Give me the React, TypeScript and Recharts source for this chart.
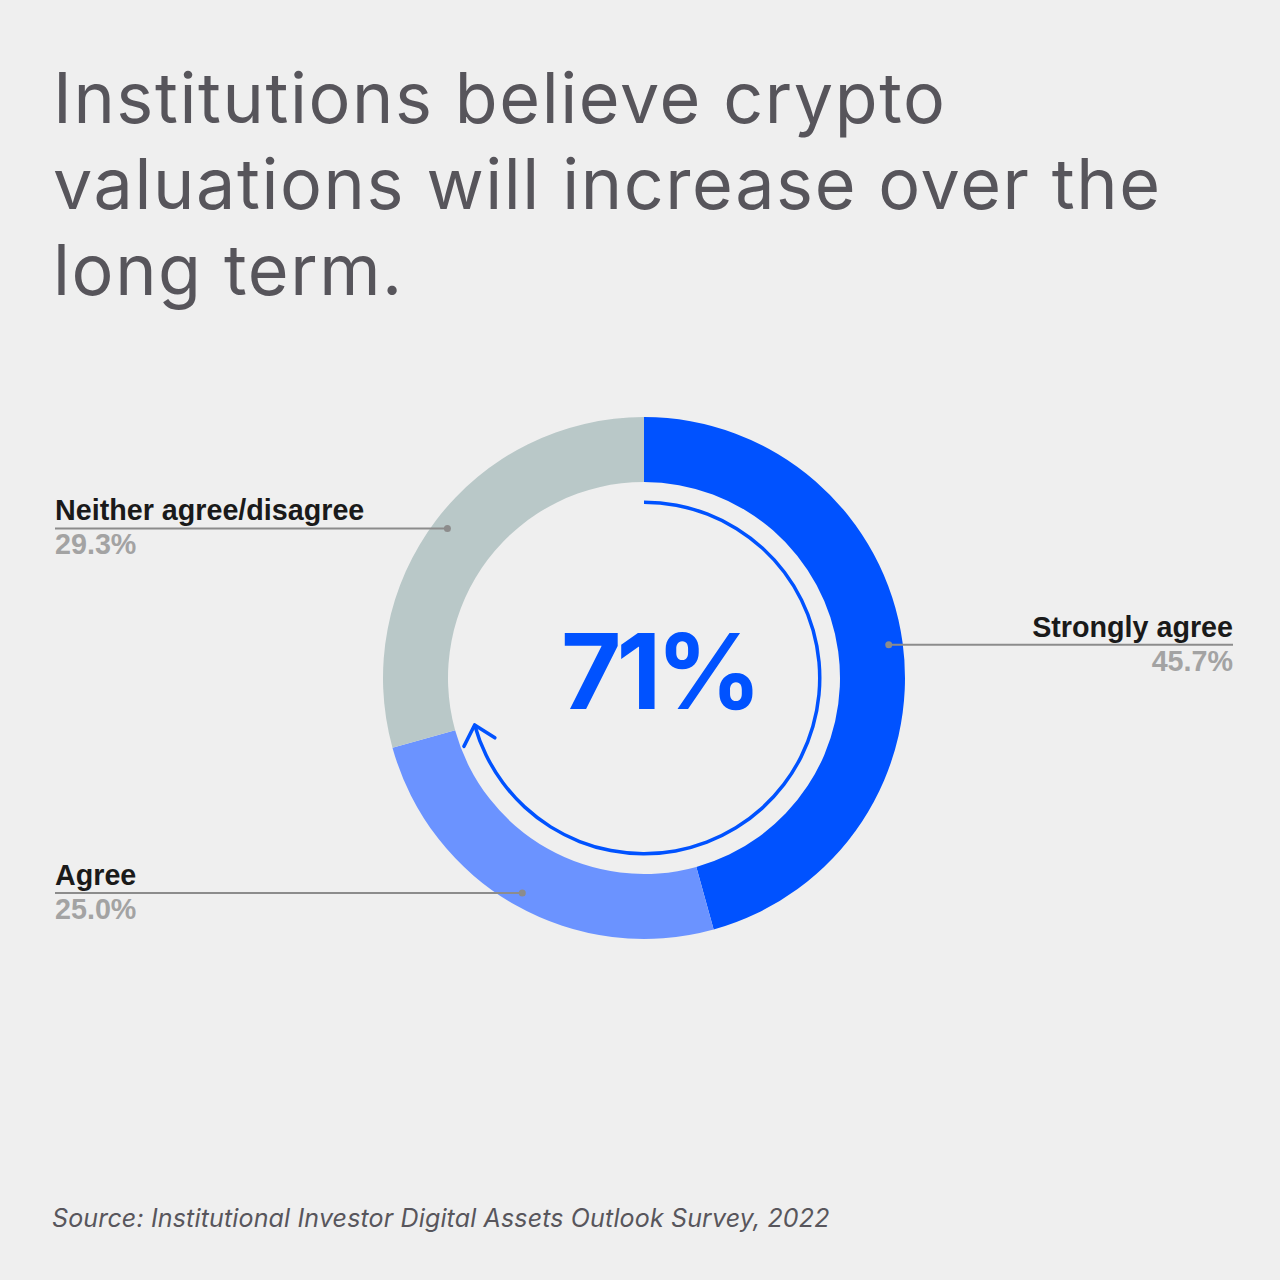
import React from 'react';
import { PieChart, Pie, Cell, Label } from 'recharts';

const categories = ['Strongly agree', 'Agree', 'Neither agree/disagree'];
const shares = [45.7, 25.0, 29.3];
const colors = ['#0052ff', '#6b93ff', '#b9c8c8'];
const headline = '71%';
const arcShare = [70.7, 29.3];

const sliceData = categories.map((name, i) => ({ name, value: shares[i] }));
const arcData = arcShare.map((value, i) => ({ name: i === 0 ? 'agree' : 'rest', value }));

const W = 1280;
const CX = 644;
const CY = 678;
const RAD = Math.PI / 180;

function SliceLabel(props: any) {
  const { cx, cy, midAngle, name, value } = props;
  const r = 247;
  const x = cx + r * Math.cos(-midAngle * RAD);
  const y = cy + r * Math.sin(-midAngle * RAD);
  const right = x > cx;
  const edge = right ? 1233 : 55;
  const anchor = right ? 'end' : 'start';
  return (
    <g>
      <line x1={x} y1={y} x2={edge} y2={y} stroke="#8c8c8c" strokeWidth={2} />
      <circle cx={x} cy={y} r={3.5} fill="#8c8c8c" />
      <text x={edge} y={y - 8} textAnchor={anchor} fontFamily="'Liberation Sans', Arial, sans-serif" fontWeight={700} fontSize={28.7} fill="#1a1a1a">
        {name}
      </text>
      <text x={edge} y={y + 26} textAnchor={anchor} fontFamily="'Liberation Sans', Arial, sans-serif" fontWeight={700} fontSize={28.7} fill="#a3a3a3">
        {value.toFixed(1)}%
      </text>
    </g>
  );
}

function ArrowHead(props: any) {
  const { cx, cy, endAngle, index, innerRadius, outerRadius } = props;
  if (index !== 0) return null;
  const r = (innerRadius + outerRadius) / 2;
  const a = -endAngle * RAD;
  const tx = cx + r * Math.cos(a);
  const ty = cy + r * Math.sin(a);
  // direction of travel (clockwise on screen)
  const dx = -Math.sin(a);
  const dy = Math.cos(a);
  const len = 24;
  const spread = 42 * RAD;
  const bx = -dx;
  const by = -dy;
  const w1x = tx + len * (bx * Math.cos(spread) - by * Math.sin(spread));
  const w1y = ty + len * (bx * Math.sin(spread) + by * Math.cos(spread));
  const w2x = tx + len * (bx * Math.cos(-spread) - by * Math.sin(-spread));
  const w2y = ty + len * (bx * Math.sin(-spread) + by * Math.cos(-spread));
  return (
    <path
      d={`M${w1x},${w1y} L${tx},${ty} L${w2x},${w2y}`}
      fill="none"
      stroke="#0052ff"
      strokeWidth={3.5}
      strokeLinecap="round"
      strokeLinejoin="round"
    />
  );
}

function CenterText(props: any) {
  const { viewBox } = props;
  const cx = viewBox?.cx ?? CX;
  const cy = viewBox?.cy ?? CY;
  return (
    <text x={cx + 15} y={cy + 31} textAnchor="middle" fontFamily="Inter, sans-serif" fontWeight={700} fontSize={104} letterSpacing={-5} fill="#0052ff">
      {headline}
    </text>
  );
}

export default function App() {
  return (
    <div style={{ position: 'absolute', left: 0, top: 0, width: W, height: W, background: '#efefef', overflow: 'hidden' }}>
      <div
        style={{
          position: 'absolute',
          left: 53,
          top: 55,
          width: 1200,
          fontFamily: 'Inter, sans-serif',
          fontWeight: 400,
          fontSize: 70,
          lineHeight: '86px',
          color: '#57555b',
          letterSpacing: 1.6,
        }}
      >
        Institutions believe crypto valuations will increase over the long term.
      </div>
      <div style={{ position: 'absolute', left: 0, top: 0 }}>
        <PieChart width={W} height={W} margin={{ top: 0, right: 0, bottom: 0, left: 0 }}>
          <Pie
            data={sliceData}
            dataKey="value"
            nameKey="name"
            cx={CX}
            cy={CY}
            innerRadius={196}
            outerRadius={261}
            startAngle={90}
            endAngle={-270}
            stroke="none"
            label={SliceLabel}
            labelLine={false}
            isAnimationActive={false}
          >
            {sliceData.map((d, i) => (
              <Cell key={d.name} fill={colors[i]} />
            ))}
          </Pie>
          <Pie
            data={arcData}
            dataKey="value"
            cx={CX}
            cy={CY}
            innerRadius={174}
            outerRadius={177.5}
            startAngle={90}
            endAngle={-270}
            stroke="none"
            label={ArrowHead}
            labelLine={false}
            isAnimationActive={false}
          >
            <Cell fill="#0052ff" />
            <Cell fill="none" />
            <Label content={CenterText} position="center" />
          </Pie>
        </PieChart>
      </div>
      <div
        style={{
          position: 'absolute',
          left: 52,
          top: 1203,
          fontFamily: 'Inter, sans-serif',
          fontStyle: 'italic',
          fontSize: 25,
          letterSpacing: 0.15,
          color: '#58565c',
        }}
      >
        Source: Institutional Investor Digital Assets Outlook Survey, 2022
      </div>
    </div>
  );
}
